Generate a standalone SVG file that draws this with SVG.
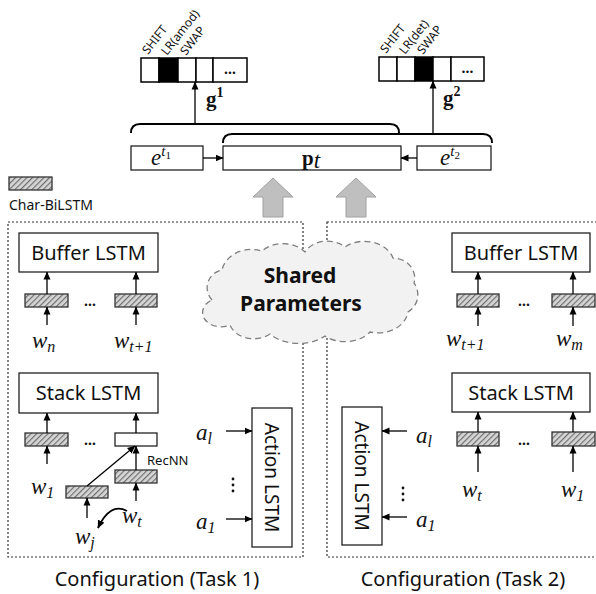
<svg xmlns="http://www.w3.org/2000/svg" width="596" height="594" viewBox="0 0 596 594">
<defs>
<pattern id="hatch" width="4" height="4" patternUnits="userSpaceOnUse" patternTransform="rotate(45)">
<rect width="4" height="4" fill="#d6d6d6"/>
<line x1="0.5" y1="0" x2="0.5" y2="4" stroke="#6f6f6f" stroke-width="1.4"/>
</pattern>
<marker id="ah" markerWidth="8" markerHeight="8" refX="7.5" refY="4" orient="auto" markerUnits="userSpaceOnUse">
<path d="M0,0.5 L8,4 L0,7.5 z" fill="#000"/>
</marker>
</defs>
<style>
.box{fill:#fff;stroke:#222;stroke-width:1.3}
.hb{fill:url(#hatch);stroke:#333;stroke-width:1.3}
.cell{fill:#fff;stroke:#000;stroke-width:1.5}
.blk{fill:#000;stroke:#000;stroke-width:1.5}
.arr{fill:none;stroke:#000;stroke-width:1.3;marker-end:url(#ah)}
.brace{fill:none;stroke:#000;stroke-width:2}
.cfg{fill:none;stroke:#333;stroke-width:1.2;stroke-dasharray:2,2}
.sans{font-family:"Noto Sans","Open Sans","Liberation Sans",sans-serif;fill:#111}
.lbl{font-size:20px}
.math{font-family:"Liberation Serif","DejaVu Serif",serif;font-style:italic;fill:#111;font-size:23px}
.bmath{font-family:"Liberation Serif","DejaVu Serif",serif;font-weight:bold;fill:#111;font-size:21px}
.rot{font-size:12px}
.gray{fill:#bfbfbf;stroke:#a0a0a0;stroke-width:1}
</style>

<!-- configuration boxes -->
<g id="config1">
<rect class="cfg" x="8" y="222" width="295" height="335"/>
<text class="sans" x="157" y="586" font-size="20" text-anchor="middle">Configuration (Task 1)</text>
</g>
<g id="config2">
<rect class="cfg" x="327" y="222" width="290" height="335"/>
<text class="sans" x="463" y="586" font-size="20" text-anchor="middle">Configuration (Task 2)</text>
</g>

<!-- legend -->
<g id="legend">
<rect class="hb" x="9" y="177" width="43" height="13"/>
<text class="sans" x="9" y="210" font-size="14">Char-BiLSTM</text>
</g>

<!-- score vectors -->
<g id="scores1">
<rect class="cell" x="141" y="58" width="18" height="24"/>
<rect class="blk" x="159" y="58" width="19" height="24"/>
<rect class="cell" x="178" y="58" width="18" height="24"/>
<rect class="cell" x="196" y="58" width="17" height="24"/>
<rect class="cell" x="213" y="58" width="34" height="24"/>
<text class="sans" x="230" y="74" font-size="14" font-weight="bold" text-anchor="middle">…</text>
<text class="sans rot" transform="translate(148,55) rotate(-52)">SHIFT</text>
<text class="sans rot" transform="translate(167,56) rotate(-52)">LR(amod)</text>
<text class="sans rot" transform="translate(186,56) rotate(-52)">SWAP</text>
<text class="bmath" x="206" y="106">g<tspan font-size="14" dy="-9">1</tspan></text>
</g>
<g id="scores2">
<rect class="cell" x="379" y="57" width="18" height="24"/>
<rect class="cell" x="397" y="57" width="18" height="24"/>
<rect class="blk" x="415" y="57" width="18" height="24"/>
<rect class="cell" x="433" y="57" width="18" height="24"/>
<rect class="cell" x="451" y="57" width="33" height="24"/>
<text class="sans" x="467.5" y="73" font-size="14" font-weight="bold" text-anchor="middle">…</text>
<text class="sans rot" transform="translate(386,54) rotate(-52)">SHIFT</text>
<text class="sans rot" transform="translate(405,55) rotate(-52)">LR(det)</text>
<text class="sans rot" transform="translate(423,55) rotate(-52)">SWAP</text>
<text class="bmath" x="443" y="105">g<tspan font-size="14" dy="-9">2</tspan></text>
</g>

<!-- top embedding boxes -->
<g id="et1">
<rect class="box" x="131" y="146" width="72" height="24"/>
<text class="math" x="151" y="165" font-size="21">e<tspan font-size="15" dy="-9">t</tspan><tspan font-size="11" font-style="normal" dy="3">1</tspan></text>
</g>
<g id="pt">
<rect class="box" x="223" y="146" width="178" height="24"/>
<text class="bmath" x="302" y="165">p<tspan class="math" font-weight="normal" font-size="17" dy="3">t</tspan></text>
</g>
<g id="et2">
<rect class="box" x="417" y="146" width="74" height="24"/>
<text class="math" x="440" y="165" font-size="21">e<tspan font-size="15" dy="-9">t</tspan><tspan font-size="11" font-style="normal" dy="3">2</tspan></text>
</g>

<!-- gray block arrows -->
<g id="blockarrows">
<path class="gray" d="M273,178 L293,197 L283,197 L283,217 L263,217 L263,197 L253,197 Z"/>
<path class="gray" d="M356,178 L376,197 L366,197 L366,217 L346,217 L346,197 L336,197 Z"/>
</g>

<!-- cloud -->
<g id="shared">
<path d="M212,300 A18,18 0 0 1 222,270 A30,25 0 0 1 262,251 A28,22 0 0 1 305,252 A25,20 0 0 1 345,247 A30,24 0 0 1 393,258 A22,20 0 0 1 414,283 A20,20 0 0 1 408,312 A30,24 0 0 1 370,332 A30,22 0 0 1 325,336 A35,22 0 0 1 270,334 A25,20 0 0 1 230,325 A18,14 0 0 1 212,300 Z" fill="#f2f2f2" stroke="#7f7f7f" stroke-width="1.3" stroke-dasharray="6,4"/>
<text class="sans" x="300" y="283" font-size="21" font-weight="bold" text-anchor="middle">Shared</text>
<text class="sans" x="301" y="311" font-size="21" font-weight="bold" text-anchor="middle">Parameters</text>
</g>

<!-- Task 1 -->
<g id="buffer1">
<rect class="box" x="19" y="233" width="139" height="39"/>
<text class="sans lbl" x="88.5" y="260" text-anchor="middle">Buffer LSTM</text>
</g>
<g id="bufemb1">
<rect class="hb" x="25" y="294" width="43" height="13"/>
<rect class="hb" x="115" y="294" width="42" height="13"/>
<text class="sans" x="90" y="306" font-size="14" font-weight="bold" text-anchor="middle">…</text>
<text class="math" x="32" y="348">w<tspan font-size="16" dy="4">n</tspan></text>
<text class="math" x="114" y="348">w<tspan font-size="16" dy="4">t+1</tspan></text>
</g>
<g id="stack1">
<rect class="box" x="19" y="373" width="139" height="40"/>
<text class="sans lbl" x="88.5" y="400" text-anchor="middle">Stack LSTM</text>
</g>
<g id="stackemb1">
<rect class="hb" x="25" y="433" width="43" height="13"/>
<rect class="box" x="115" y="433" width="42" height="13"/>
<text class="sans" x="90" y="445" font-size="14" font-weight="bold" text-anchor="middle">…</text>
<rect class="hb" x="115" y="470" width="42" height="13"/>
<rect class="hb" x="66" y="486" width="42" height="12"/>
<text class="sans" x="147" y="465" font-size="13">RecNN</text>
<text class="math" x="31" y="494">w<tspan font-size="16" dy="4">1</tspan></text>
<text class="math" x="122" y="523">w<tspan font-size="16" dy="4">t</tspan></text>
<text class="math" x="75" y="544">w<tspan font-size="16" dy="4">j</tspan></text>
</g>
<g id="action1">
<rect class="box" x="252" y="408" width="40" height="139"/>
<text class="sans" transform="translate(272,477.5) rotate(90)" font-size="19" text-anchor="middle" dominant-baseline="central">Action LSTM</text>
<text class="math" x="196" y="440">a<tspan font-size="16" dy="4">l</tspan></text>
<text class="math" x="196" y="529">a<tspan font-size="16" dy="4">1</tspan></text>
<circle cx="233" cy="479" r="1.4" fill="#111"/>
<circle cx="233" cy="485" r="1.4" fill="#111"/>
<circle cx="233" cy="491" r="1.4" fill="#111"/>
</g>

<!-- Task 2 -->
<g id="buffer2">
<rect class="box" x="452" y="233" width="138" height="39"/>
<text class="sans lbl" x="521" y="260" text-anchor="middle">Buffer LSTM</text>
</g>
<g id="bufemb2">
<rect class="hb" x="457" y="294" width="42" height="13"/>
<rect class="hb" x="552" y="294" width="43" height="13"/>
<text class="sans" x="524" y="306" font-size="14" font-weight="bold" text-anchor="middle">…</text>
<text class="math" x="446" y="346">w<tspan font-size="16" dy="4">t+1</tspan></text>
<text class="math" x="556" y="346">w<tspan font-size="16" dy="4">m</tspan></text>
</g>
<g id="stack2">
<rect class="box" x="452" y="373" width="138" height="39"/>
<text class="sans lbl" x="521" y="400" text-anchor="middle">Stack LSTM</text>
</g>
<g id="stackemb2">
<rect class="hb" x="457" y="432" width="42" height="14"/>
<rect class="hb" x="552" y="432" width="43" height="14"/>
<text class="sans" x="524" y="445" font-size="14" font-weight="bold" text-anchor="middle">…</text>
<text class="math" x="462" y="497">w<tspan font-size="16" dy="4">t</tspan></text>
<text class="math" x="561" y="497">w<tspan font-size="16" dy="4">1</tspan></text>
</g>
<g id="action2">
<rect class="box" x="342" y="407" width="40" height="138"/>
<text class="sans" transform="translate(362,476) rotate(90)" font-size="19" text-anchor="middle" dominant-baseline="central">Action LSTM</text>
<text class="math" x="416" y="443">a<tspan font-size="16" dy="4">l</tspan></text>
<text class="math" x="416" y="527">a<tspan font-size="16" dy="4">1</tspan></text>
<circle cx="403" cy="488" r="1.4" fill="#111"/>
<circle cx="403" cy="494" r="1.4" fill="#111"/>
<circle cx="403" cy="500" r="1.4" fill="#111"/>
</g>

<!-- connectors -->
<g id="connectors">
<path class="brace" d="M131,133 Q131,124 140,124 L390,124 Q399,124 399,133"/>
<path class="brace" d="M223,143 Q223,134 232,134 L483,134 Q492,134 492,143"/>
<line class="arr" x1="195" y1="124" x2="195" y2="82"/>
<line class="arr" x1="433" y1="134" x2="433" y2="81"/>
<line class="arr" x1="203" y1="158" x2="223" y2="158"/>
<line class="arr" x1="417" y1="158" x2="401" y2="158"/>
<line class="arr" x1="47" y1="294" x2="47" y2="272"/>
<line class="arr" x1="136" y1="294" x2="136" y2="272"/>
<line class="arr" x1="47" y1="325" x2="47" y2="307"/>
<line class="arr" x1="136" y1="325" x2="136" y2="307"/>
<line class="arr" x1="47" y1="433" x2="47" y2="413"/>
<line class="arr" x1="136" y1="433" x2="136" y2="413"/>
<line class="arr" x1="47" y1="464" x2="47" y2="446"/>
<line class="arr" x1="136" y1="470" x2="136" y2="446"/>
<line class="arr" x1="136" y1="501" x2="136" y2="483"/>
<line class="arr" x1="87" y1="486" x2="135" y2="446"/>
<line class="arr" x1="87" y1="518" x2="87" y2="498"/>
<path d="M127,511 Q110,502 98,528" fill="none" stroke="#000" stroke-width="1.8" marker-end="url(#ah)"/>
<line class="arr" x1="226" y1="431" x2="252" y2="431"/>
<line class="arr" x1="226" y1="519" x2="252" y2="519"/>
<line class="arr" x1="478" y1="294" x2="478" y2="272"/>
<line class="arr" x1="573" y1="294" x2="573" y2="272"/>
<line class="arr" x1="478" y1="326" x2="478" y2="307"/>
<line class="arr" x1="573" y1="326" x2="573" y2="307"/>
<line class="arr" x1="478" y1="432" x2="478" y2="412"/>
<line class="arr" x1="573" y1="432" x2="573" y2="412"/>
<line class="arr" x1="478" y1="472" x2="478" y2="446"/>
<line class="arr" x1="573" y1="472" x2="573" y2="446"/>
<line class="arr" x1="407" y1="431" x2="382" y2="431"/>
<line class="arr" x1="407" y1="517" x2="382" y2="517"/>
</g>
</svg>
